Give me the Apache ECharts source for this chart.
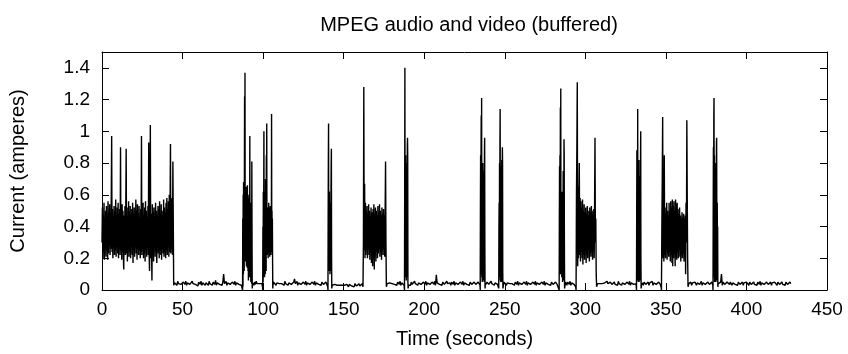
<!DOCTYPE html>
<html>
<head>
<meta charset="utf-8">
<script src="https://cdn.jsdelivr.net/npm/echarts@6/dist/echarts.min.js"></script>
<style>
html,body{margin:0;padding:0;background:#fff;}
#chart{width:848px;height:354px;}
</style>
</head>
<body>
<div id="chart"></div>
<script>
// ---- Data: current (amperes) vs time (seconds) ----
const titleText = "MPEG audio and video (buffered)";
const xName = "Time (seconds)";
const yName = "Current (amperes)";
const xTicks = [0, 50, 100, 150, 200, 250, 300, 350, 400, 450];
const yTicks = [0, 0.2, 0.4, 0.6, 0.8, 1, 1.2, 1.4];

// noisy playback 0–44 s (step 0.25 s)
const noisyA = [
  0.30,0.52,0.20,0.47,0.24,0.55,0.19,0.44,0.27,0.50,0.21,0.53,0.25,0.46,0.19,0.56,0.23,0.49,0.28,0.54,
  0.22,0.47,0.26,0.58,0.97,0.24,0.51,0.20,0.45,0.29,0.53,0.22,0.49,0.25,0.57,0.21,0.44,0.27,0.52,0.23,
  0.55,0.20,0.48,0.26,0.51,0.22,0.90,0.25,0.46,0.19,0.54,0.24,0.50,0.21,0.13,0.47,0.27,0.53,0.22,0.49,
  0.89,0.23,0.52,0.18,0.45,0.26,0.56,0.21,0.49,0.24,0.53,0.20,0.47,0.28,0.51,0.22,0.55,0.17,0.48,0.25,
  0.52,0.21,0.46,0.27,0.57,0.23,0.50,0.19,0.54,0.26,0.48,0.22,0.53,0.25,0.45,0.20,0.51,0.24,0.97,0.22,
  0.49,0.26,0.55,0.20,0.47,0.23,0.52,0.18,0.56,0.25,0.50,0.21,0.46,0.27,0.53,0.22,0.93,0.24,0.12,0.51,
  1.04,0.20,0.48,0.25,0.06,0.54,0.22,0.49,0.18,0.52,0.26,0.46,0.21,0.55,0.24,0.50,0.17,0.47,0.27,0.53,
  0.23,0.51,0.20,0.56,0.25,0.48,0.22,0.54,0.19,0.50,0.26,0.45,0.23,0.57,0.21,0.52,0.24,0.49,0.20,0.55,
  0.25,0.58,0.22,0.51,0.27,0.56,0.21,0.60,0.24,0.53,0.92,0.23,0.55,0.26,0.58,0.22,0.81];
const quiet1 = [
  0.03,0.045,0.035,0.05,0.03,0.055,0.04,0.03,0.05,0.035,0.045,0.025,0.05,0.04,0.035,0.055,0.03,0.045,0.04,0.05,
  0.035,0.045,0.03,0.055,0.04,0.03,0.05,0.035,0.045,0.04,0.025,0.05,0.04,0.035,0.055,0.03,0.045,0.04,0.05,0.03,
  0.045,0.035,0.05,0.03,0.055,0.04,0.035,0.045,0.03,0.05,0.04,0.035,0.06,0.03,0.045,0.04,0.05,0.035,0.04,0.045,
  0.03,0.05,0.10,0.04,0.035,0.055,0.03,0.045,0.04,0.05,0.035,0.045,0.03,0.05,0.04,0.035,0.055,0.03,0.045,0.04,
  0.05,0.035,0.045,0.04,0.03];
const burst1 = [
  0.04,0.03,0.0,0.45,0.02,0.60,0.10,0.68, 0.15,0.55,0.12,0.66,1.22,0.30,1.37,0.20,
  0.62,0.18,0.58,0.22,0.65,0.15,0.55,0.20, 0.60,0.14,0.66,0.18,0.52,0.12,0.58,0.06,
  0.55,0.10,0.60,0.08,0.50,0.12,0.97,0.15, 0.52,0.08,0.48,0.05,0.55,0.10,0.45,0.04,
  0.81,0.30,0.01,0.03,0.04];
const quiet2 = [0.045,0.03,0.05,0.035,0.055,0.04,0.03,0.05,0.04,0.035,0.045,0.04];
const burst2 = [
  0.03,0.02,0.0,0.40,0.05,0.62,0.10,0.55, 1.00,0.12,0.58,0.08,0.50,0.15,0.62,0.10,
  0.70,0.18,0.60,0.12,0.85,0.22,1.05,0.30, 0.50,0.22,0.48,0.26,0.52,0.20,0.47,0.25,
  0.55,0.23,0.49,0.27,0.52,0.21,0.46,0.24, 0.53,0.26,0.48,0.22,0.50,0.30,1.11,0.28,
  0.50,0.24,0.45,0.20,0.01,0.03,0.04,0.05,0.04];
const quiet3 = [
  0.04,0.05,0.03,0.045,0.035,0.055,0.04,0.03,0.05,0.04,0.035,0.045,0.03,0.055,0.04,0.035,0.05,0.03,0.045,0.04,
  0.05,0.035,0.045,0.03,0.05,0.07,0.04,0.035,0.055,0.03,0.045,0.04,0.05,0.035,0.045,0.03,0.05,0.04,0.035,0.055,
  0.03,0.045,0.04,0.05,0.035,0.045,0.03,0.05,0.04,0.035,0.055,0.03,0.045,0.04,0.05,0.035,0.04,0.045,0.03,0.05,
  0.04,0.035,0.045,0.03,0.05,0.04];
const burst3 = [0.04,0.02,0.0,0.45,0.82,1.05,0.15,0.40,0.12,0.62,0.18,0.45,0.10,0.55,0.15,0.42,0.12,0.60,0.78,0.89,
  0.20,0.01,0.02,0.03,0.04];
const quiet4 = [
  0.03,0.02,0.035,0.025,0.04,0.03,0.02,0.035,0.03,0.025,0.04,0.03,0.035,0.02,0.03,0.04,0.025,0.035,0.03,0.02,
  0.035,0.03,0.04,0.025,0.03,0.035,0.02,0.04,0.03,0.025,0.035,0.03,0.04,0.025,0.035,0.03,0.04];
const noisy4 = [
  0.02,0.30,1.28,0.25,0.67,0.20,0.55,0.22,0.50,0.25, 0.53,0.20,0.48,0.26,0.54,0.22,0.50,0.19,0.47,0.24,
  0.52,0.17,0.49,0.23,0.15,0.51,0.20,0.54,0.13,0.48, 0.22,0.52,0.18,0.50,0.25,0.47,0.20,0.53,0.23,0.49,
  0.26,0.54,0.21,0.50,0.24,0.47,0.19,0.52,0.25,0.48, 0.22,0.51,0.26,0.47,0.21,0.50,0.81,0.30,0.02];
const quiet5 = [0.04,0.05,0.03,0.045,0.035,0.055,0.04,0.03,0.05,0.035,0.045,0.04,0.03,0.05,0.04,0.035,0.055,0.03,0.045,0.04,0.035];
const burst5 = [0.03,0.02,0.0,0.60,1.40,0.10,0.70,0.08,0.85,0.12,0.65,0.06,0.80,0.10,0.70,0.08,0.90,0.96,0.85,0.05,
  0.01,0.02,0.03,0.04,0.04];
const quiet6 = [
  0.04,0.03,0.05,0.035,0.045,0.03,0.055,0.04,0.035,0.05,0.03,0.045,0.04,0.05,0.035,0.045,0.03,0.05,0.04,0.035,
  0.055,0.03,0.045,0.04,0.05,0.035,0.045,0.03,0.05,0.04,0.035,0.055,0.03,0.096,0.045,0.04,0.05,0.035,0.04,0.045,
  0.03,0.05,0.04,0.035,0.045,0.03,0.055,0.04,0.05,0.035,0.045,0.03,0.05,0.04,0.035,0.055,0.03,0.045,0.04,0.05,
  0.035,0.045,0.03,0.05,0.04,0.035,0.055,0.03,0.045,0.04,0.05,0.035,0.04,0.045,0.03,0.05,0.04,0.035,0.045,0.03,
  0.05,0.04,0.035,0.045,0.03,0.05,0.04];
const burst6 = [0.04,0.03,0.0,0.50,0.85,0.10,0.80,1.10,0.15,1.21,0.08,0.72,0.05,0.80,0.10,0.65,0.06,0.75,0.08,0.70,
  0.12,0.80,0.05,0.85,0.96,0.30,0.01,0.03,0.04];
const quiet7 = [0.03,0.05,0.04,0.035,0.045,0.03,0.055,0.04,0.035,0.05,0.03,0.045,0.04,0.05,0.035];
const burst7 = [0.04,0.03,0.01,0.40,0.55,0.08,0.80,0.10,0.95,1.14,0.06,0.70,0.05,0.78,0.10,0.65,0.05,0.82,0.12,0.70,
  0.90,0.80,0.10,0.01,0.02,0.03,0.04,0.04,0.05];
const quiet8 = [
  0.04,0.05,0.03,0.045,0.035,0.055,0.04,0.03,0.05,0.04,0.035,0.045,0.03,0.05,0.04,0.035,0.055,0.03,0.045,0.04,
  0.05,0.035,0.045,0.03,0.05,0.04,0.035,0.055,0.03,0.045,0.04,0.05,0.035,0.045,0.03,0.05,0.04,0.035,0.055,0.03,
  0.045,0.04,0.05,0.035,0.045,0.03,0.05,0.04,0.035,0.055,0.03,0.045,0.04,0.05,0.035,0.04,0.045,0.03,0.05,0.04,
  0.035,0.045,0.03,0.05,0.04,0.035,0.045];
const burst8 = [0.04,0.03,0.0,0.45,0.78,0.12,0.85,0.10,1.15,0.20,1.27,0.10,0.60,0.12,0.55,0.08,0.62,0.12,0.50,0.05,
  0.58,0.10,0.75,0.08,0.70,0.06,0.95,0.85,0.30,0.01,0.02,0.03,0.04,0.04,0.05];
const quiet9 = [0.045,0.03,0.05,0.04,0.035,0.055,0.03,0.045,0.04,0.05,0.035,0.04];
const noisy9 = [
  0.02,0.0,0.60,0.90,1.31,0.15,0.65,0.20,0.55,0.80, 0.22,0.58,0.18,0.56,0.24,0.52,0.20,0.57,0.16,0.50,
  0.23,0.54,0.19,0.49,0.25,0.52,0.17,0.48,0.22,0.53, 0.20,0.50,0.26,0.47,0.18,0.52,0.23,0.49,0.21,0.53,
  0.24,0.50,0.19,0.48,0.25,0.51,0.20,0.55,0.96,0.30, 0.45,0.10,0.02,0.03,0.04];
const quiet10 = [
  0.03,0.05,0.04,0.035,0.045,0.04,0.05,0.03,0.045,0.04,0.035,0.055,0.04,0.045,0.03,0.05,0.04,0.035,0.045,0.04,
  0.05,0.035,0.04,0.045,0.03,0.055,0.04,0.035,0.05,0.03,0.045,0.04,0.05,0.035,0.045,0.03,0.05,0.04,0.035,0.055,
  0.03,0.045,0.04,0.05,0.035,0.045,0.04];
const burst10 = [0.04,0.03,0.0,0.45,0.88,0.10,0.70,0.06,1.14,0.12,0.75,0.05,0.65,0.08,0.82,0.05,0.60,0.08,0.72,0.06,
  0.70,0.10,0.80,1.00,0.20,0.01,0.02,0.03,0.04];
const quiet11 = [0.045,0.03,0.05,0.04,0.035,0.045,0.04,0.05,0.03,0.045,0.04,0.035,0.055,0.03,0.045,0.04,0.05,0.035,0.045,0.03,
  0.05,0.04,0.035];
const noisy11 = [
  0.02,0.0,0.40,0.70,1.09,0.20,0.60,0.18,0.85,0.22, 0.52,0.20,0.48,0.25,0.55,0.19,0.50,0.23,0.47,0.21,
  0.55,0.24,0.50,0.18,0.56,0.22,0.52,0.17,0.57,0.15, 0.53,0.20,0.56,0.23,0.50,0.15,0.57,0.21,0.54,0.19,
  0.55,0.24,0.51,0.20,0.48,0.25,0.52,0.21,0.47,0.18, 0.45,0.22,0.49,0.20,0.46,0.23,0.48,0.18,0.45,0.21,
  0.47,0.10,0.55,0.30,1.07,0.60,0.20,0.02,0.03,0.04,0.04];
const quiet12 = [0.04,0.05,0.03,0.045,0.04,0.035,0.05,0.04,0.03,0.045,0.04,0.05,0.035,0.04,0.055,0.03,0.045,0.04,0.05,0.035,
  0.045,0.03,0.05,0.04,0.035,0.045,0.04,0.05];
const burst12 = [0.04,0.03,0.0,0.50,0.90,0.10,1.10,1.21,0.08,0.85,0.05,0.78,0.10,0.70,0.06,0.80,0.05,0.72,0.10,0.92,
  0.96,0.40,0.06,0.55,0.10,0.40,0.02,0.03,0.04,0.04,0.05,0.04,0.04];
const quiet13 = [
  0.04,0.05,0.10,0.03,0.05,0.04,0.035,0.045,0.03,0.05,0.04,0.045,0.035,0.05,0.04,0.03,0.045,0.04,0.05,0.035,
  0.04,0.045,0.03,0.05,0.04,0.035,0.045,0.04,0.05,0.03,0.045,0.04,0.035,0.05,0.04,0.045,0.03,0.05,0.04,0.035,
  0.045,0.04,0.05,0.035,0.04,0.045,0.03,0.05,0.04,0.035,0.055,0.03,0.045,0.04,0.05,0.035,0.045,0.03,0.05,0.04,
  0.035,0.045,0.04,0.05,0.03,0.045,0.04,0.035,0.05,0.04,0.045,0.03,0.05,0.04,0.035,0.045,0.04,0.05,0.035,0.04,
  0.045,0.03,0.05,0.04,0.035,0.045,0.04,0.05,0.04];

// [start time (s), sample step (s), values]
const segments = [
  [0, 0.25, noisyA], [44.5, 0.5, quiet1], [87, 0.125, burst1], [93.75, 0.5, quiet2],
  [99.5, 0.125, burst2], [107, 0.5, quiet3], [140, 0.125, burst3], [143.5, 0.5, quiet4],
  [162, 0.25, noisy4], [177, 0.5, quiet5], [187.5, 0.125, burst5], [191, 0.5, quiet6],
  [234.5, 0.125, burst6], [238.5, 0.5, quiet7], [246, 0.125, burst7], [250, 0.5, quiet8],
  [283.5, 0.125, burst8], [288, 0.5, quiet9], [294, 0.25, noisy9], [308, 0.5, quiet10],
  [331.5, 0.125, burst10], [335.5, 0.5, quiet11], [347, 0.25, noisy11], [365, 0.5, quiet12],
  [379, 0.125, burst12], [383.5, 0.5, quiet13]
];

const points = [];
segments.forEach(function (s) {
  s[2].forEach(function (v, i) { points.push([s[0] + i * s[1], v]); });
});
points.sort(function (a, b) { return a[0] - b[0]; });

const FONT = "Liberation Sans";
const chart = echarts.init(document.getElementById('chart'), null, {renderer: 'canvas'});

function baseX(extra) {
  return Object.assign({
    type: 'value', min: xTicks[0], max: xTicks[xTicks.length - 1], interval: xTicks[1] - xTicks[0],
    axisLine: {show: true, onZero: false, lineStyle: {color: '#000', width: 1}},
    axisTick: {show: true, inside: true, length: 7, lineStyle: {color: '#000', width: 1}},
    splitLine: {show: false}
  }, extra);
}
function baseY(extra) {
  return Object.assign({
    type: 'value', min: 0, max: 1.5, interval: yTicks[1] - yTicks[0],
    axisLine: {show: true, onZero: false, lineStyle: {color: '#000', width: 1}},
    axisTick: {show: true, inside: true, length: 7, lineStyle: {color: '#000', width: 1}},
    splitLine: {show: false}
  }, extra);
}

chart.setOption({
  animation: false,
  backgroundColor: '#fff',
  title: {
    text: titleText, left: 464, top: 10, textAlign: 'center',
    textStyle: {fontFamily: FONT, fontSize: 20, fontWeight: 'normal', color: '#000'}
  },
  grid: {left: 102, right: 21, top: 52, bottom: 62, containLabel: false},
  xAxis: [
    baseX({position: 'bottom',
      axisLabel: {show: true, margin: 10, fontFamily: FONT, fontSize: 19, color: '#000'},
      name: xName, nameLocation: 'middle', nameGap: 39,
      nameTextStyle: {fontFamily: FONT, fontSize: 20, color: '#000'}}),
    baseX({position: 'top', axisLabel: {show: false}})
  ],
  yAxis: [
    baseY({position: 'left',
      axisLabel: {show: true, margin: 12, showMaxLabel: false, fontFamily: FONT, fontSize: 19, color: '#000'},
      name: yName, nameLocation: 'middle', nameGap: 74,
      nameTextStyle: {fontFamily: FONT, fontSize: 20, color: '#000'}}),
    baseY({position: 'right', axisLabel: {show: false}})
  ],
  series: [{
    type: 'line', xAxisIndex: 0, yAxisIndex: 0, data: points,
    showSymbol: false, symbol: 'none', sampling: null,
    lineStyle: {color: '#000', width: 1.4}
  }]
});
</script>
</body>
</html>
